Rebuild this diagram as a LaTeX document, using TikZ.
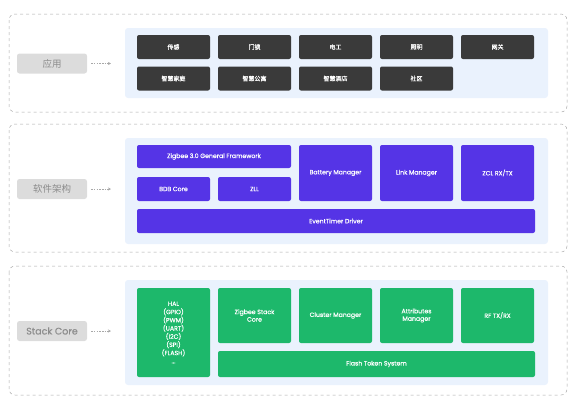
\documentclass[tikz,border=0pt]{standalone}
\usepackage{fontspec}
\setmainfont{Poppins}[FakeBold=0.4]
\newfontfamily\cjk{Noto Sans CJK SC}[FakeBold=0.6]
\newfontfamily\cjklight{Noto Sans CJK SC}
\usetikzlibrary{arrows.meta, positioning}

\definecolor{panelbg}{HTML}{EAF2FD}
\definecolor{appbox}{HTML}{3A3A3A}
\definecolor{fwbox}{HTML}{5534E6}
\definecolor{corebox}{HTML}{1DB86B}
\definecolor{tagbg}{HTML}{DCDCDC}
\definecolor{tagtext}{HTML}{8C8C8C}
\definecolor{framegray}{HTML}{A8A8A8}

\begin{document}
\begin{tikzpicture}[x=1pt, y=-1pt, >=Stealth,
  every node/.style={font=\fontsize{6.2}{7.5}\selectfont, text=white, inner sep=0pt},
  layer/.style={draw=framegray, dashed, rounded corners=6pt, line width=0.5pt},
  panel/.style={fill=panelbg, rounded corners=3pt},
  tag/.style={fill=tagbg, rounded corners=2.5pt, minimum width=70pt, minimum height=20pt,
    text=tagtext, font=\fontsize{9.5}{10}\selectfont},
  blk/.style={rounded corners=2pt, minimum width=73pt, minimum height=24pt, align=center},
  appblk/.style={blk, fill=appbox, font=\cjk\fontsize{6}{7}\selectfont},
  fwblk/.style={blk, fill=fwbox},
  coreblk/.style={blk, fill=corebox},
  link/.style={->, draw=framegray, line width=0.5pt, dash pattern=on 1.5pt off 1.2pt,
    >={Stealth[length=3pt, width=3pt]}}]
\useasboundingbox (0,0) rectangle (576,400);

% application layer
\draw[layer] (9,14) rectangle (567,112);
\fill[panel] (125,28) rectangle (548,98);
\node[tag, font=\cjklight\fontsize{9.5}{10}\selectfont] (app) at (52,63.5) {应用};
\coordinate (appout) at ([xshift=4pt]app.east);
\coordinate (appin) at (111,63.5);
\draw[link] (appout) -- (appin);
\foreach \name [count=\i from 0] in {传感,门锁,电工,照明,网关}
  \node[appblk] (a\i) at (173.5+81*\i,47) {\name};
\foreach \name [count=\i from 0] in {智慧家庭,智慧公寓,智慧酒店,社区}
  \node[appblk] (b\i) at (173.5+81*\i,78.5) {\name};

% software framework layer
\draw[layer] (9,124) rectangle (567,252);
\fill[panel] (125,138) rectangle (548,244);
\node[tag, font=\cjklight\fontsize{9.5}{10}\selectfont] (fw) at (52,189) {软件架构};
\coordinate (fwout) at ([xshift=4pt]fw.east);
\coordinate (fwin) at (111,189);
\draw[link] (fwout) -- (fwin);
\node[fwblk, minimum width=154pt, minimum height=23pt] (frame) at (214,156.5) {Zigbee 3.0 General Framework};
\node[fwblk] (bdb) at (173.5,189) {BDB Core};
\node[fwblk] (zll) at (254.5,189) {ZLL};
\node[fwblk, minimum height=56pt] (battery) at (335.5,173) {Battery Manager};
\node[fwblk, minimum height=56pt] (linkmgr) at (416.5,173) {Link Manager};
\node[fwblk, minimum height=56pt] (zcl) at (497.5,173) {ZCL RX/TX};
\node[fwblk, minimum width=398pt] (event) at (336,221) {EventTimer Driver};

% stack core layer
\draw[layer] (9,266) rectangle (567,395);
\fill[panel] (125,280) rectangle (548,385);
\node[tag] (core) at (52,331) {Stack Core};
\coordinate (coreout) at ([xshift=4pt]core.east);
\coordinate (corein) at (111,331);
\draw[link] (coreout) -- (corein);
\node[coreblk, minimum height=89pt, font=\fontsize{6.2}{8.2}\selectfont] (hal) at (173.5,332.5)
  {HAL\\(GPIO)\\(PWM)\\(UART)\\(I2C)\\(SPI)\\(FLASH)\\...};
\node[coreblk, minimum height=55pt] (stack) at (254.5,315.5) {Zigbee Stack\\Core};
\node[coreblk, minimum height=55pt] (cluster) at (335.5,315.5) {Cluster Manager};
\node[coreblk, minimum height=55pt] (attr) at (416.5,315.5) {Attributes\\Manager};
\node[coreblk, minimum height=55pt] (rf) at (497.5,315.5) {RF TX/RX};
\node[coreblk, minimum width=317pt, minimum height=26pt] (flash) at (376.5,364) {Flash Token System};
\end{tikzpicture}
\end{document}
